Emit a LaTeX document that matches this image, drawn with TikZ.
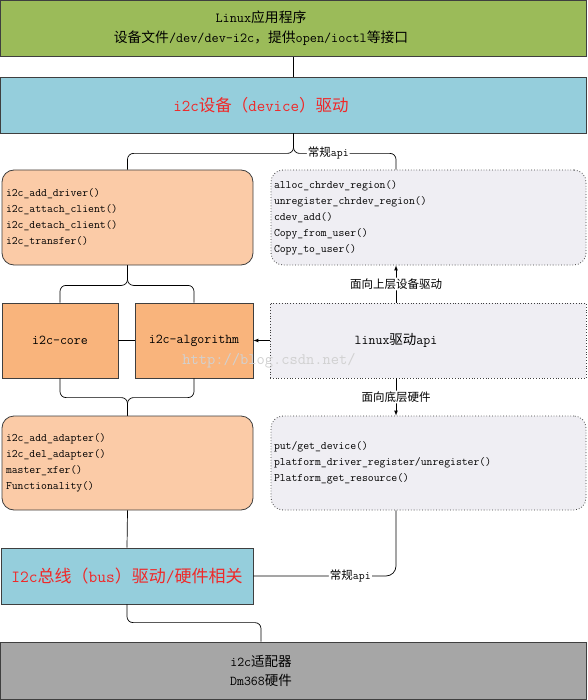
\documentclass[tikz,border=0pt]{standalone}
\usepackage{fontspec}
\newfontfamily\cjk{Noto Sans CJK SC}
\newcommand{\zh}[1]{{\cjk #1}}
\definecolor{appgreen}{HTML}{9BBB59}
\definecolor{drvblue}{HTML}{95CEDC}
\definecolor{fnorange}{HTML}{FBCBA7}
\definecolor{coreorange}{HTML}{F9B47C}
\definecolor{apigrey}{HTML}{EFEEF3}
\definecolor{hwgrey}{HTML}{A6A6A6}
\definecolor{edge}{HTML}{3F3F3F}
\definecolor{drvred}{HTML}{F02828}
\begin{document}
\begin{tikzpicture}[x=1pt,y=-1pt,
  box/.style={draw=edge,line width=0.8pt,inner sep=0pt},
  fnbox/.style={box,fill=fnorange,rounded corners=12pt,align=left,inner sep=4pt,text width=243pt,minimum width=251pt,font=\ttfamily\fontsize{11.4}{16}\selectfont},
  apibox/.style={draw=edge,line width=0.8pt,dash pattern=on 0.8pt off 2pt,fill=apigrey,align=left,inner sep=3pt,text width=309pt,minimum width=315pt,font=\ttfamily\fontsize{11.4}{16}\selectfont},
  corebox/.style={box,fill=coreorange,minimum height=75pt,font=\ttfamily\fontsize{13.5}{16}\selectfont},
  lbl/.style={fill=white,inner sep=1pt,font=\ttfamily\fontsize{11.5}{13}\selectfont},
  link/.style={draw=black,line width=0.7pt,rounded corners=6pt},
  arr/.style={link,-latex}]
\useasboundingbox (0,0) rectangle (587,700);
% boxes
\node[box,fill=appgreen,minimum width=586pt,minimum height=56pt] (app) at (293.5,28.5) {};
\node[font=\ttfamily\fontsize{13.8}{20}\selectfont,align=center] (apptxt) at ([xshift=-32.5pt]app.center) {Linux\zh{应用程序}\\\zh{设备文件}/dev/dev-i2c\zh{，提供}open/ioctl\zh{等接口}};
\node[box,fill=drvblue,minimum width=586pt,minimum height=56pt] (dev) at (293.5,105) {};
\node[text=drvred,font=\ttfamily\fontsize{16.5}{20}\selectfont] (devtxt) at ([xshift=-32.5pt]dev.center) {i2c\zh{设备（}device\zh{）驱动}};
\node[fnbox,minimum height=95pt] (fns1) at (127.5,217.5) {i2c\_add\_driver()\\i2c\_attach\_client()\\i2c\_detach\_client()\\i2c\_transfer()};
\node[apibox,rounded corners=12pt,minimum height=95pt] (api1) at (428.5,217.5) {alloc\_chrdev\_region()\\unregister\_chrdev\_region()\\cdev\_add()\\Copy\_from\_user()\\Copy\_to\_user()};
\node[corebox,minimum width=116pt] (core) at (60,340.5) {i2c-core};
\node[corebox,minimum width=118pt] (algo) at (194,340.5) {i2c-algorithm};
\node[apibox,minimum height=75pt,minimum width=316pt,text width=310pt] (lapi) at (428,340.5) {};
\node[font=\ttfamily\fontsize{13.5}{16}\selectfont] (lapitxt) at ([xshift=-32pt]lapi.center) {linux\zh{驱动}api};
\node[fnbox,minimum height=94pt] (fns2) at (127.5,463) {i2c\_add\_adapter()\\i2c\_del\_adapter()\\master\_xfer()\\Functionality()};
\node[apibox,rounded corners=12pt,minimum height=94pt] (api2) at (428.5,463) {put/get\_device()\\platform\_driver\_register/unregister()\\Platform\_get\_resource()};
\node[box,fill=drvblue,minimum width=252pt,minimum height=56pt,text=drvred,font=\ttfamily\fontsize{17}{20}\selectfont] (bus) at (127,576) {I2c\zh{总线（}bus\zh{）驱动}/\zh{硬件相关}};
\node[box,fill=hwgrey,minimum width=586pt,minimum height=57pt] (hw) at (293.5,670.5) {};
\node[font=\ttfamily\fontsize{13.5}{19}\selectfont,align=center] (hwtxt) at ([xshift=-32.5pt]hw.center) {i2c\zh{适配器}\\Dm368\zh{硬件}};
\node[text=black!18,font=\ttfamily\fontsize{16}{16}\selectfont] (wm) at (269,361) {http://blog.csdn.net/};
% connectors
\draw[link] (app.south) -- (dev.north);
\draw[link] (fns1.north) |- ([yshift=-20pt]dev.south) -- (dev.south);
\draw[link] ([xshift=-32.5pt]api1.north) |- node[lbl,pos=0.83]{\zh{常规}api} ([yshift=-20pt]dev.south) -- (dev.south);
\draw[link] (core.north) |- ([yshift=-20pt]fns1.south) -- (fns1.south);
\draw[link] (algo.north) |- ([yshift=-20pt]fns1.south) -- (fns1.south);
\draw[link] (core.east) -- (algo.west);
\draw[arr] (lapi.west) -- (algo.east);
\draw[arr] ([xshift=-32pt]lapi.north) -- node[lbl]{\zh{面向上层设备驱动}} ([xshift=-32.5pt]api1.south);
\draw[arr] ([xshift=-32pt]lapi.south) -- node[lbl]{\zh{面向底层硬件}} ([xshift=-32.5pt]api2.north);
\draw[link] (core.south) |- ([yshift=18pt]fns2.north) -- (fns2.north);
\draw[link] (algo.south) |- ([yshift=18pt]fns2.north) -- (fns2.north);
\draw[link] (fns2.south) -- (bus.north);
\draw[link,rounded corners=10pt] (bus.east) -| node[lbl,pos=0.34]{\zh{常规}api} ([xshift=-32.5pt]api2.south);
\coordinate (hwin) at ([xshift=-32.5pt]hw.north);
\draw[link] (bus.south) |- ([yshift=19pt]hwin) -- (hwin);
\end{tikzpicture}
\end{document}
